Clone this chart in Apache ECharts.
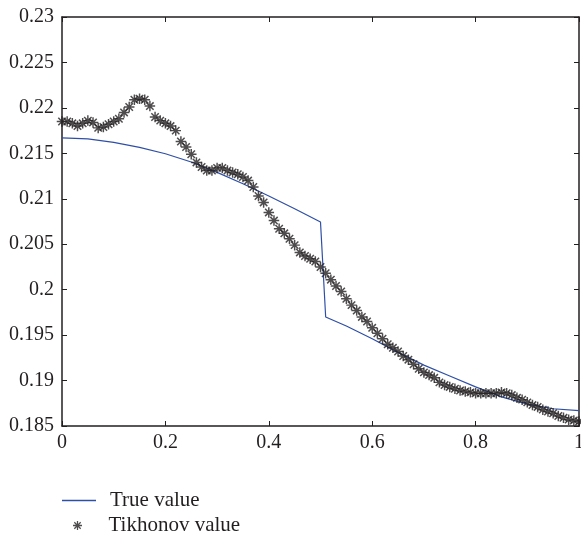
<!DOCTYPE html>
<html><head><meta charset="utf-8">
<script src="https://cdn.jsdelivr.net/npm/echarts@6/dist/echarts.min.js"></script>
<style>html,body{margin:0;padding:0;background:#fff}#c{width:581px;height:534px}</style>
</head><body><div id="c"></div>
<script>
// True value
const trueX = [0, 0.05, 0.1, 0.15, 0.2, 0.25, 0.3, 0.35, 0.4, 0.45, 0.5, 0.51, 0.55, 0.6, 0.65, 0.7, 0.75, 0.8, 0.85, 0.9, 0.95, 1.0];
const trueY = [0.2167, 0.2166, 0.2162, 0.21565, 0.21495, 0.21405, 0.2129, 0.21165, 0.2103, 0.2089, 0.20745, 0.1970, 0.1960, 0.1946, 0.1931, 0.1917, 0.1905, 0.1893, 0.1882, 0.1874, 0.1869, 0.1867];
// Tikhonov value
const tikX = [0, 0.01, 0.02, 0.03, 0.04, 0.05, 0.06, 0.07, 0.08, 0.09, 0.1, 0.11, 0.12, 0.13, 0.14, 0.15, 0.16, 0.17, 0.18, 0.19, 0.2, 0.21, 0.22, 0.23, 0.24, 0.25, 0.26, 0.27, 0.28, 0.29, 0.3, 0.31, 0.32, 0.33, 0.34, 0.35, 0.36, 0.37, 0.38, 0.39, 0.4, 0.41, 0.42, 0.43, 0.44, 0.45, 0.46, 0.47, 0.48, 0.49, 0.5, 0.51, 0.52, 0.53, 0.54, 0.55, 0.56, 0.57, 0.58, 0.59, 0.6, 0.61, 0.62, 0.63, 0.64, 0.65, 0.66, 0.67, 0.68, 0.69, 0.7, 0.71, 0.72, 0.73, 0.74, 0.75, 0.76, 0.77, 0.78, 0.79, 0.8, 0.81, 0.82, 0.83, 0.84, 0.85, 0.86, 0.87, 0.88, 0.89, 0.9, 0.91, 0.92, 0.93, 0.94, 0.95, 0.96, 0.97, 0.98, 0.99, 1.0];
const tikY = [0.2185, 0.2185, 0.2183, 0.2180, 0.2183, 0.2186, 0.2184, 0.2178, 0.2179, 0.2182,
  0.2185, 0.2188, 0.2195, 0.2201, 0.2209, 0.2210, 0.2209, 0.2202, 0.2190, 0.2186,
  0.2183, 0.2180, 0.2175, 0.2163, 0.2157, 0.2149, 0.2140, 0.2135, 0.2131, 0.2131,
  0.2134, 0.2134, 0.2131, 0.2129, 0.2127, 0.2124, 0.2120, 0.2113, 0.2103, 0.2096,
  0.2085, 0.2076, 0.2067, 0.2062, 0.2056, 0.2049, 0.2041, 0.2037, 0.2034, 0.2031,
  0.2025, 0.2018, 0.2011, 0.2004, 0.1998, 0.1990, 0.1983, 0.1977, 0.1970, 0.1965,
  0.1958, 0.1952, 0.1946, 0.1940, 0.1936, 0.1932, 0.1927, 0.1923, 0.1918, 0.1913,
  0.1909, 0.1906, 0.1903, 0.1898, 0.1895, 0.1893, 0.1891, 0.1889, 0.1888, 0.1887,
  0.1886, 0.1886, 0.1886, 0.1886, 0.1886, 0.1887, 0.1886, 0.1884, 0.1881, 0.1879,
  0.1876, 0.1873, 0.1871, 0.1868, 0.1866, 0.1864, 0.1861, 0.1859, 0.1857, 0.1856, 0.1855];
const seriesNames = ['True value', 'Tikhonov value'];

const FONT = '"Liberation Serif", "DejaVu Serif", serif';
const INK = '#231f20';
const STAR = 'path://M8.6,0H11.4V20H8.6Z M0,8.6H20V11.4H0Z M3.93,1.94L18.06,16.07L16.07,18.06L1.94,3.93Z M18.06,3.93L3.93,18.06L1.94,16.07L16.07,1.94Z';
const fmt = v => String(parseFloat(v.toFixed(4)));

const axisCommon = {
  axisLine: { show: true, onZero: false, lineStyle: { color: INK, width: 1.5 } },
  axisTick: { show: true, inside: true, length: 5, lineStyle: { color: INK, width: 1 } },
  splitLine: { show: false }
};

const legendBase = {
  orient: 'horizontal', itemWidth: 34, itemHeight: 9,
  selectedMode: false, padding: 0,
  textStyle: { fontFamily: FONT, fontSize: 21, color: INK,
    rich: { t: { padding: [0, 0, 0, 9], fontFamily: FONT, fontSize: 21, color: INK } } },
  formatter: n => '{t|' + n + '}'
};

const chart = echarts.init(document.getElementById('c'), null, { renderer: 'canvas' });
chart.setOption({
  animation: false,
  backgroundColor: '#fff',
  grid: { left: 62, right: 2, top: 17, bottom: 108, containLabel: false, outerBoundsMode: 'none' },
  xAxis: [
    Object.assign({ type: 'value', min: 0, max: 1, interval: 0.2, position: 'bottom',
      axisLabel: { formatter: fmt, fontFamily: FONT, fontSize: 20, color: INK, margin: 7 } }, axisCommon),
    Object.assign({ type: 'value', min: 0, max: 1, interval: 0.2, position: 'top',
      axisLabel: { show: false } }, axisCommon)
  ],
  yAxis: [
    Object.assign({ type: 'value', min: 0.185, max: 0.23, interval: 0.005, position: 'left',
      axisLabel: { formatter: fmt, fontFamily: FONT, fontSize: 20, color: INK, margin: 8 } }, axisCommon),
    Object.assign({ type: 'value', min: 0.185, max: 0.23, interval: 0.005, position: 'right',
      axisLabel: { show: false } }, axisCommon)
  ],
  legend: [
    Object.assign({}, legendBase, { left: 62, top: 490, data: [{ name: seriesNames[0], icon: 'path://M0,0H34V1.3H0Z' }] }),
    Object.assign({}, legendBase, { left: 73, top: 515, data: [{ name: seriesNames[1], icon: STAR }] })
  ],
  series: [
    {
      name: seriesNames[0], type: 'line', xAxisIndex: 0, yAxisIndex: 0,
      data: trueX.map((x, i) => [x, trueY[i]]),
      showSymbol: false, symbol: 'none', smooth: false,
      lineStyle: { color: '#2f4fa6', width: 1.2 }, itemStyle: { color: '#2f4fa6' }, z: 2
    },
    {
      name: seriesNames[1], type: 'scatter', xAxisIndex: 0, yAxisIndex: 0,
      data: tikX.map((x, i) => [x, tikY[i]]),
      symbol: STAR, symbolSize: 10.5,
      itemStyle: { color: INK }, z: 3
    }
  ]
});
</script>
</body></html>
